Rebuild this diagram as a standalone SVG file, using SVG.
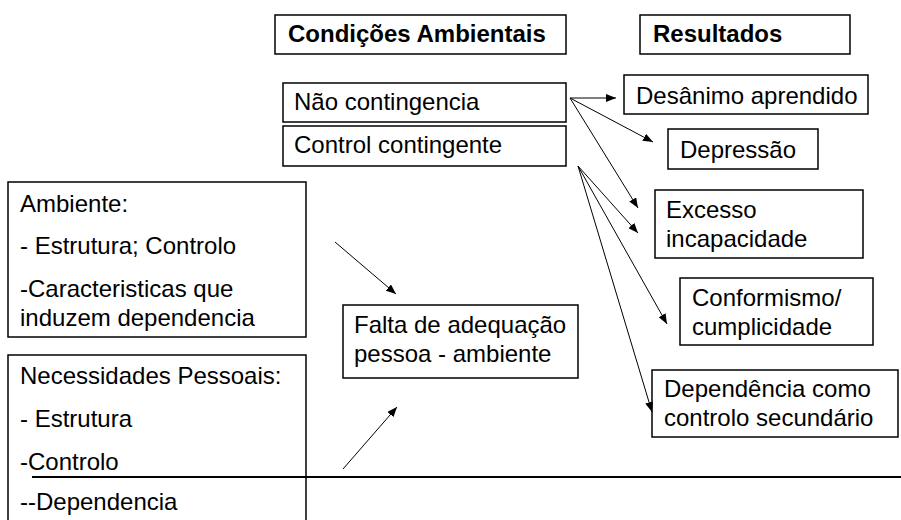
<svg xmlns="http://www.w3.org/2000/svg" width="901" height="520" viewBox="0 0 901 520">
<defs>
<marker id="ah" viewBox="0 0 10 8" refX="10" refY="4" markerWidth="10" markerHeight="8" markerUnits="userSpaceOnUse" orient="auto">
<path d="M0,0 L10,4 L0,8 Z" fill="#000"/>
</marker>
<style>
rect{fill:#fff;stroke:#000;stroke-width:1.5}
text{font-family:"Liberation Sans",Arial,sans-serif;font-size:24px;fill:#000}
.b{font-weight:bold}
.c line{stroke:#000;stroke-width:1;marker-end:url(#ah)}
</style>
</defs>
<rect width="901" height="520" style="stroke:none"/>
<g id="condicoes"><rect x="275" y="15" width="291" height="39"/><text class="b" x="288" y="42">Condições Ambientais</text></g>
<g id="resultados"><rect x="640" y="15" width="210" height="39"/><text class="b" x="653" y="42">Resultados</text></g>
<g id="nao-contingencia"><rect x="283" y="83" width="283" height="39"/><text x="294" y="110">Não contingencia</text></g>
<g id="control-contingente"><rect x="283" y="126" width="283" height="40"/><text x="294" y="153">Control contingente</text></g>
<g id="desanimo"><rect x="624" y="75" width="244" height="39"/><text x="636" y="104">Desânimo aprendido</text></g>
<g id="depressao"><rect x="668" y="129" width="150" height="40"/><text x="680" y="158">Depressão</text></g>
<g id="excesso"><rect x="655" y="190" width="208" height="68"/><text x="666" y="218">Excesso</text><text x="666" y="247">incapacidade</text></g>
<g id="conformismo"><rect x="680" y="278" width="193" height="67"/><text x="692" y="306">Conformismo/</text><text x="692" y="335">cumplicidade</text></g>
<g id="dependencia"><rect x="652" y="370" width="246" height="67"/><text x="664" y="397">Dependência como</text><text x="664" y="426">controlo secundário</text></g>
<g id="falta"><rect x="343" y="305" width="235" height="73"/><text x="354" y="333">Falta de adequação</text><text x="354" y="362">pessoa - ambiente</text></g>
<g id="ambiente"><rect x="8" y="182" width="298" height="155"/><text x="20" y="212">Ambiente:</text><text x="20" y="254">- Estrutura; Controlo</text><text x="20" y="297">-Caracteristicas que</text><text x="20" y="326">induzem dependencia</text></g>
<g id="necessidades"><rect x="8" y="355" width="298" height="175"/><text x="20" y="384">Necessidades Pessoais:</text><text x="20" y="427">- Estrutura</text><text x="20" y="470">-Controlo</text><text x="20" y="510">--Dependencia</text></g>
<g id="connectors" class="c">
<line x1="570" y1="98" x2="616" y2="98"/>
<line x1="570" y1="98" x2="653" y2="142"/>
<line x1="570" y1="98" x2="638" y2="208"/>
<line x1="578" y1="166" x2="638" y2="233"/>
<line x1="578" y1="166" x2="667" y2="324"/>
<line x1="578" y1="166" x2="652" y2="412"/>
<line x1="335" y1="242" x2="396" y2="294"/>
<line x1="343" y1="469" x2="397" y2="407"/>
</g>
<line id="baseline-rule" x1="32" y1="477" x2="901" y2="477" stroke="#000" stroke-width="2"/>
</svg>
